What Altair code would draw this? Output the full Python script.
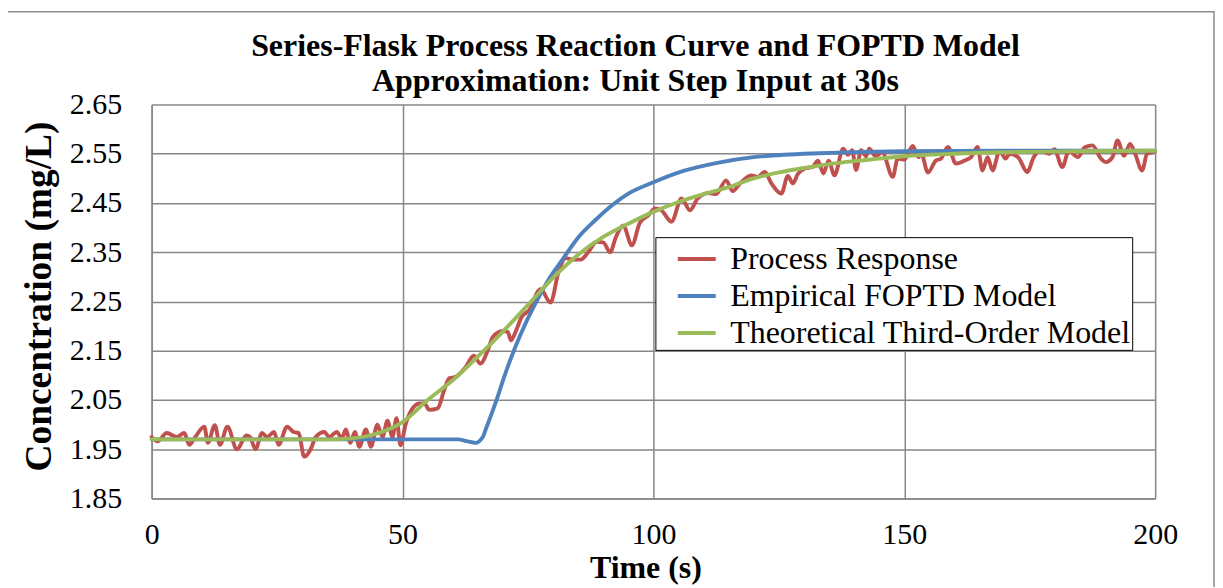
import altair as alt
import pandas as pd

# Process response (noisy measured data)
process_t = [0, 1.2, 3, 5, 6.5, 7.5, 8.7, 10.5, 11.2, 12.6, 13.6, 15.1, 17, 18.9, 19.6, 20.7, 22, 23, 24.4, 25.3,
             27, 28.3, 29.3, 30.4, 31.7, 32.7, 34.4, 35.4, 36.9, 37.9, 38.7, 39.6, 40.5, 41.4, 42.7, 43.7, 45, 46,
             47, 48, 48.8, 49.6, 50.6, 52, 53.4, 54.4, 55.3, 57, 58.3, 59.3, 60.6, 62.6, 64.2, 65.5, 67, 68, 70,
             71, 71.6, 72.6, 73.7, 75.2, 77.5, 79.5, 81.1, 82.5, 84, 85.5, 87, 88.7, 90, 91.4, 92.5, 94, 95.7,
             97.3, 99, 100.3, 101.5, 103.6, 105.6, 107.3, 108.8, 111, 112.5, 114.5, 115.8, 117.3, 119.5, 120.8,
             122.2, 123.5, 125.5, 126.8, 127.8, 128.8, 130.2, 131.7, 132.8, 133.9, 134.9, 136.1, 137.8, 138.8,
             139.6, 140.4, 141.4, 142.4, 143, 144.3, 145.6, 147.7, 148.7, 150, 151.7, 152.8, 153.4, 154.7, 156.3,
             157.3, 158.7, 160.3, 162, 163.3, 164.6, 165.6, 166.6, 167.6, 169, 170.2, 171, 172.7, 174.5, 175.8,
             177.1, 178.9, 179.9, 181.5, 182.8, 184.6, 186, 187.5, 189.2, 190.2, 191.5, 192.5, 193.8, 195, 196,
             197.4, 198.4, 199.5, 200]
process_y = [1.975, 1.966, 1.983, 1.975, 1.983, 1.959, 1.975, 1.996, 1.963, 1.999, 1.959, 1.996, 1.950, 1.978,
             1.975, 1.950, 1.983, 1.975, 1.985, 1.959, 1.996, 1.985, 1.983, 1.935, 1.950, 1.975, 1.985, 1.975,
             1.985, 1.972, 1.990, 1.963, 1.985, 1.955, 1.990, 1.955, 2.000, 1.975, 2.008, 1.975, 2.013, 1.958,
             2.000, 2.033, 2.043, 2.043, 2.030, 2.033, 2.070, 2.094, 2.097, 2.117, 2.140, 2.124, 2.151, 2.178,
             2.190, 2.188, 2.171, 2.190, 2.218, 2.232, 2.275, 2.248, 2.310, 2.338, 2.335, 2.335, 2.350, 2.371,
             2.370, 2.350, 2.380, 2.404, 2.364, 2.410, 2.425, 2.439, 2.436, 2.412, 2.459, 2.435, 2.459, 2.470,
             2.468, 2.496, 2.474, 2.490, 2.506, 2.503, 2.513, 2.490, 2.469, 2.505, 2.490, 2.509, 2.520, 2.523,
             2.536, 2.510, 2.536, 2.506, 2.560, 2.548, 2.557, 2.517, 2.557, 2.545, 2.560, 2.545, 2.553, 2.503,
             2.540, 2.538, 2.566, 2.543, 2.550, 2.512, 2.536, 2.540, 2.564, 2.530, 2.536, 2.543, 2.564, 2.516,
             2.543, 2.516, 2.556, 2.540, 2.550, 2.543, 2.513, 2.543, 2.556, 2.550, 2.559, 2.523, 2.556, 2.543,
             2.563, 2.567, 2.540, 2.533, 2.543, 2.577, 2.546, 2.570, 2.550, 2.516, 2.550, 2.553, 2.555]

# Empirical FOPTD model
foptd_t = [0, 61, 63, 64.5, 66, 66.5, 68.5, 70.5, 72.5, 74.5, 76.5, 79.1, 81.8, 85.1, 88.4, 91.7, 95, 100,
           106, 113, 120, 126, 133, 140, 150, 170, 200]
foptd_y = [1.970, 1.970, 1.966, 1.963, 1.975, 1.988, 2.043, 2.104, 2.158, 2.205, 2.246, 2.294, 2.334, 2.381,
           2.415, 2.445, 2.469, 2.492, 2.515, 2.532, 2.543, 2.548, 2.551, 2.553, 2.555, 2.556, 2.556]

# Theoretical third-order model
third_t = [0, 35, 40, 45, 50, 55, 60, 65, 70, 75, 80, 85, 90, 95, 100, 105, 110, 115, 120, 125, 130, 135,
           140, 145, 150, 160, 170, 185, 200]
third_y = [1.970, 1.970, 1.972, 1.982, 2.005, 2.050, 2.090, 2.138, 2.189, 2.243, 2.298, 2.345, 2.381, 2.408,
           2.432, 2.452, 2.468, 2.482, 2.500, 2.512, 2.521, 2.529, 2.535, 2.540, 2.545, 2.550, 2.553, 2.555,
           2.556]

series = ["Process Response", "Empirical FOPTD Model", "Theoretical Third-Order Model"]
colors = ["#C0504D", "#4F81BD", "#9BBB59"]
title_lines = ["Series-Flask Process Reaction Curve and FOPTD Model",
               "Approximation: Unit Step Input at 30s"]

frames = []
for i, (name, tt, yy) in enumerate(zip(series, [process_t, foptd_t, third_t], [process_y, foptd_y, third_y])):
    frames.append(pd.DataFrame({"t": tt, "c": yy, "series": name, "order": i}))
df = pd.concat(frames, ignore_index=True)

FONT = "Liberation Serif"
GRID = "#878787"

lines = alt.Chart(df).mark_line(strokeWidth=3.9, interpolate="monotone", strokeCap="round").encode(
    x=alt.X("t:Q", scale=alt.Scale(domain=[0, 200], nice=False),
            axis=alt.Axis(title="Time (s)", values=[0, 50, 100, 150, 200], format="d",
                          titleX=495, titleY=69, titleBaseline="middle", titleAlign="center",
                          titleFontSize=32)),
    y=alt.Y("c:Q", scale=alt.Scale(domain=[1.85, 2.65], nice=False, zero=False),
            axis=alt.Axis(title="Concentration (mg/L)",
                          values=[1.85, 1.95, 2.05, 2.15, 2.25, 2.35, 2.45, 2.55, 2.65], format=".2f",
                          titleX=-112, titleY=192, titleAngle=-90, titleBaseline="middle", titleAlign="center",
                          titleFontSize=37.5)),
    color=alt.Color("series:N", scale=alt.Scale(domain=series, range=colors), sort=series,
                    legend=alt.Legend(title=None, orient="none", legendX=505, legendY=133,
                                      symbolType="stroke", symbolSize=1444, symbolStrokeWidth=4,
                                      symbolOffset=19.5,
                                      labelFont=FONT, labelFontSize=32, labelColor="black",
                                      labelOffset=12.5, labelLimit=700, rowPadding=0, padding=1,
                                      strokeColor="black", fillColor="white")),
    detail="series:N",
    order=alt.Order("order:Q"),
)

title_df = pd.DataFrame({"line": title_lines, "row": [0, 1]})
title_text = alt.Chart(title_df).mark_text(
    font=FONT, fontSize=32, fontWeight="bold", color="black", align="center", baseline="middle"
).encode(
    text="line:N",
    x=alt.value(485),
    y=alt.Y("row:Q", scale=alt.Scale(domain=[0, 1], range=[-59, -24]), axis=None),
)

border = alt.Chart(pd.DataFrame({"k": [0]})).mark_rect(
    fill=None, stroke="#8c8c8c", strokeWidth=1.5
).encode(x=alt.value(-146), x2=alt.value(1065), y=alt.value(-93), y2=alt.value(520))

chart = alt.layer(border, lines, title_text).resolve_scale(y="independent").properties(
    width=1006, height=395,
    autosize=alt.AutoSizeParams(type="none"),
    padding={"left": 144, "top": 96, "right": 60, "bottom": 88},
).configure_view(stroke=None).configure_axis(
    labelFont=FONT, labelFontSize=30, labelColor="black", labelFlush=False,
    titleFont=FONT, titleFontWeight="bold", titleColor="black",
    grid=True, gridColor=GRID, gridWidth=1.5, domainColor=GRID, domainWidth=1.5, ticks=False,
).configure_axisX(labelPadding=21, domain=True).configure_axisY(labelPadding=30, domain=True)

chart.save("out.html", embed_options={"renderer": "svg", "actions": False})
